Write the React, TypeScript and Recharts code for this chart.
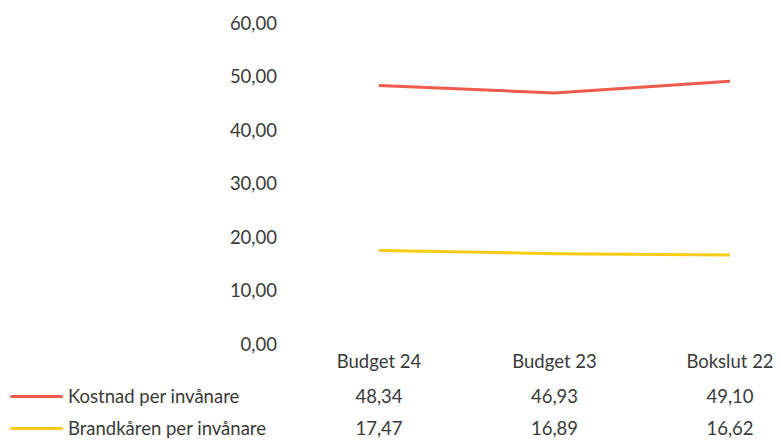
import React from "react";
import { LineChart, Line, XAxis, YAxis } from "recharts";

const categories = ["Budget 24", "Budget 23", "Bokslut 22"];
const kostnad = [48.34, 46.93, 49.1];
const brandkaren = [17.47, 16.89, 16.62];
const yTicks = [0, 10, 20, 30, 40, 50, 60];

const seriesNames = ["Kostnad per invånare", "Brandkåren per invånare"];
const seriesKeys = ["kostnad", "brandkaren"];
const seriesColors = ["#EE5A4C", "#F7CB16"];
const seriesValues = [kostnad, brandkaren];

const data = categories.map((c, i) => ({
  name: c,
  kostnad: kostnad[i],
  brandkaren: brandkaren[i],
}));

const FONT = "Lato, 'Open Sans', sans-serif";
const TEXT = "#3a3a3a";
const FS = 18.5;
const fmt = (v: number) => v.toFixed(2).replace(".", ",");

const TableTick = (props: any) => {
  const { x, y, payload, index } = props;
  const i = index ?? categories.indexOf(payload.value);
  return (
    <g>
      <text x={x} y={y + 11} textAnchor="middle" dominantBaseline="central" fill={TEXT} fontSize={FS} fontFamily={FONT}>
        {payload.value}
      </text>
      {seriesValues.map((vals, s) => (
        <text key={s} x={x} y={y + 46 + s * 32} textAnchor="middle" dominantBaseline="central" fill={TEXT} fontSize={FS} fontFamily={FONT}>
          {fmt(vals[i])}
        </text>
      ))}
    </g>
  );
};

const LegendBlock = () => (
  <div style={{ position: "absolute", left: 0, top: 384, width: 300, height: 70 }}>
    {seriesNames.map((n, s) => (
      <div key={n} style={{ position: "absolute", left: 0, top: s * 32, height: 24, display: "flex", alignItems: "center" }}>
        <div style={{ marginLeft: 10, width: 53, height: 3, background: seriesColors[s], borderRadius: 2 }} />
        <span style={{ marginLeft: 5, fontFamily: FONT, fontSize: FS, color: TEXT, whiteSpace: "nowrap" }}>{n}</span>
      </div>
    ))}
  </div>
);

export default function App() {
  return (
    <div style={{ position: "absolute", left: 0, top: 0, width: 781, height: 441, background: "#fff" }}>
      <LineChart width={781} height={441} data={data} margin={{ top: 23, right: 10, bottom: 7, left: 0 }}>
        <YAxis
          domain={[0, 60]}
          ticks={yTicks}
          width={291}
          axisLine={false}
          tickLine={false}
          tickMargin={8}
          tickFormatter={fmt}
          tick={{ fill: TEXT, fontSize: FS, fontFamily: FONT }}
        />
        <XAxis
          dataKey="name"
          height={90}
          axisLine={false}
          tickLine={false}
          tickMargin={0}
          interval={0}
          padding={{ left: 88, right: 41 }}
          tick={<TableTick />}
        />
        {seriesKeys.map((k, s) => (
          <Line key={k} dataKey={k} name={seriesNames[s]} stroke={seriesColors[s]} strokeWidth={3} dot={false} isAnimationActive={false} type="linear" />
        ))}
      </LineChart>
      <LegendBlock />
    </div>
  );
}
